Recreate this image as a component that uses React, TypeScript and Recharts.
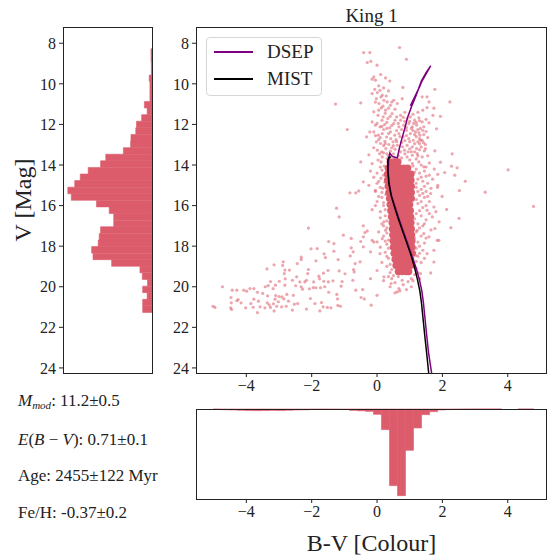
import { Bar, BarChart, Scatter, ScatterChart, XAxis, YAxis } from "recharts";

const FONT = '"Liberation Serif", "Times New Roman", serif';
const INK = "#222222";
const RED = "#dc5c6c";

const colourTicks = [-4, -2, 0, 2, 4];
const magTicks = [8, 10, 12, 14, 16, 18, 20, 22, 24];

// V histogram: 40 bins starting at V = 8.27, 0.325 mag wide
const V_MIN = 8.27;
const V_BIN = 0.325;
const vCounts = [
  3, 3, 2, 2, 8, 6, 6, 6, 22, 14, 30, 45, 47, 61, 62, 83, 134, 149, 185, 208,
  224, 244, 234, 161, 124, 111, 111, 149, 153, 156, 175, 171, 117, 35, 28, 13, 27, 14, 27, 27,
];

// B-V histogram: 40 bins starting at -5.02, 0.2455 wide
const BV_MIN = -5.02;
const BV_BIN = 0.2455;
const bvCounts = [
  4, 10, 14, 18, 22, 24, 22, 20, 22, 18, 14, 12, 6, 5, 5, 6, 8, 20, 26, 34,
  76, 295, 1095, 1238, 590, 271, 81, 38, 14, 8, 5, 3, 2, 1, 1, 1, 0, 0, 1, 1,
];

// [B-V, V]
const tailStars = [
  [-0.42, 14.83], [-0.83, 15.37], [-0.65, 15.37], [-0.56, 15.28], [-1.24, 16.13], [-1.16, 16.56],
  [-2.1, 17.11], [-0.42, 17.0], [-1.03, 17.46], [-0.37, 17.33], [-1.48, 17.77], [-1.32, 17.87],
  [-0.79, 17.62], [-0.5, 17.77], [-0.42, 17.54], [-2.02, 18.13], [-1.83, 18.12], [-0.42, 18.03],
  [-0.79, 18.08], [-0.73, 18.28], [-0.82, 18.48], [-1.32, 18.25], [-1.62, 18.38], [-1.58, 18.56],
  [-1.19, 18.66], [-1.87, 18.72], [-2.32, 18.54], [-2.32, 18.66], [-2.44, 18.86], [-2.87, 18.77],
  [-2.89, 18.95], [-3.15, 18.92], [-3.37, 19.12], [-0.52, 18.77], [-0.67, 18.86], [-0.72, 19.15],
  [-0.7, 19.27], [-2.1, 19.15], [-2.12, 19.35], [-2.82, 19.18], [-2.84, 19.35], [-2.68, 19.18],
  [-1.64, 19.33], [-1.5, 19.2], [-1.16, 19.22], [-0.98, 19.36], [-1.78, 19.48], [-1.76, 19.61],
  [-2.46, 19.51], [-2.59, 19.68], [-2.81, 19.61], [-2.99, 19.73], [-3.26, 19.74], [-3.33, 19.94],
  [-3.42, 20.0], [-3.11, 19.92], [-3.18, 20.09], [-2.82, 19.92], [-2.36, 19.76], [-2.21, 19.76],
  [-2.16, 19.68], [-1.94, 19.76], [-1.63, 19.73], [-1.49, 19.76], [-1.35, 19.71], [-1.07, 19.74],
  [-0.74, 19.68], [-2.49, 19.95], [-2.32, 20.0], [-2.28, 20.12], [-2.07, 20.1], [-1.95, 20.04],
  [-1.87, 20.05], [-1.73, 20.05], [-1.6, 20.0], [-1.48, 20.27], [-1.23, 20.38], [-1.1, 19.97],
  [-0.65, 20.17], [-0.44, 20.14], [-4.73, 20.0], [-4.43, 20.17], [-4.29, 20.17], [-4.08, 20.17],
  [-3.99, 20.22], [-3.89, 20.09], [-3.77, 20.09], [-3.66, 20.27], [-3.5, 20.33], [-3.35, 20.45],
  [-3.1, 20.43], [-3.0, 20.48], [-2.91, 20.5], [-2.76, 20.38], [-2.56, 20.42], [-3.12, 20.61],
  [-2.85, 20.6], [-2.71, 20.71], [-4.47, 20.53], [-4.25, 20.63], [-4.29, 20.69], [-3.77, 20.61],
  [-3.63, 20.71], [-3.86, 20.83], [-4.46, 20.79], [-4.16, 20.79], [-4.02, 21.04], [-3.79, 21.01],
  [-3.58, 20.99], [-3.43, 21.04], [-3.26, 21.02], [-3.07, 20.96], [-2.92, 20.99], [-2.78, 20.96],
  [-2.53, 20.86], [-2.43, 20.83], [-2.04, 20.58], [-1.9, 20.83], [-1.7, 20.78], [-1.65, 20.99],
  [-1.52, 21.02], [-1.41, 21.04], [-1.21, 20.6], [-1.2, 20.92], [-1.12, 20.96], [-0.49, 20.53],
  [-0.39, 20.6], [-5.02, 20.96], [-4.96, 21.02], [-4.48, 21.04], [-4.45, 21.12], [-3.66, 21.27],
  [-3.15, 21.19], [-2.59, 21.15], [-2.16, 21.1], [-1.75, 21.19], [-3.36, 20.79], [-3.17, 20.84],
  [-3.02, 20.74], [-3.3, 20.89],
];

const fieldStars = [
  [0.69, 8.21], [-0.41, 8.46], [-0.22, 8.46], [-0.3, 8.95], [-0.19, 8.89], [0.9, 8.79], [0.0, 9.08],
  [-0.1, 9.66], [-0.15, 9.77], [-0.05, 9.82], [0.11, 9.54], [0.26, 9.71], [0.39, 9.86], [-1.27, 11.0],
  [-0.5, 10.94], [-0.91, 12.25], [-0.32, 12.61], [-0.5, 13.85], [0.79, 10.18], [1.77, 10.27],
  [2.23, 10.89], [1.53, 10.64], [1.59, 10.89], [1.53, 11.17], [1.4, 11.3], [1.74, 11.2], [1.71, 11.55],
  [1.59, 11.92], [1.82, 12.22], [1.94, 11.6], [1.77, 13.3], [1.48, 13.19], [1.33, 12.78],
  [2.3, 13.45], [1.94, 13.86], [2.28, 14.06], [2.45, 14.14], [2.07, 14.37], [2.38, 14.5], [2.7, 14.8],
  [2.52, 15.26], [1.99, 15.55], [3.31, 15.34], [4.01, 14.24], [2.13, 16.19], [4.79, 16.04],
  [2.51, 16.63], [2.26, 17.09],
  [-0.05, 15.25], [0.21, 16.8], [0.26, 17.22], [-0.3, 17.25], [-0.15, 17.71], [0.0, 17.79],
  [0.16, 17.63], [-0.2, 18.28], [0.09, 18.37], [-0.2, 19.6], [0.21, 19.51], [0.43, 19.84],
  [0.77, 19.68], [0.9, 20.14], [0.67, 20.09], [0.62, 20.25], [0.0, 20.42], [-0.18, 20.91],
  [1.33, 19.35], [1.64, 19.32], [1.74, 18.78], [1.89, 17.71], [1.84, 17.71], [1.77, 17.13],
  [1.86, 14.46], [1.86, 15.0], [1.64, 15.41], [1.74, 16.07], [1.53, 16.23], [1.69, 16.56],
  [1.23, 17.22], [1.43, 17.38], [1.59, 17.54], [1.74, 18.2], [1.53, 18.37], [1.18, 18.45],
  [1.02, 18.69], [1.13, 19.02], [0.97, 19.35], [0.62, 19.02],
];

const giantStars = [
  [-0.07, 10.27], [0.01, 10.43], [0.09, 10.32], [0.16, 10.56], [-0.02, 10.73], [0.21, 10.81],
  [0.06, 10.97], [0.31, 10.89], [0.13, 11.19], [0.26, 11.3], [0.41, 11.06], [0.51, 10.81],
  [0.62, 10.97], [0.77, 10.73], [-0.1, 11.38], [0.03, 11.55], [0.19, 11.63], [0.33, 11.71],
  [0.46, 11.47], [0.6, 11.63], [0.72, 11.79], [-0.15, 11.88], [-0.05, 12.04], [0.09, 12.12],
  [0.23, 12.01], [0.39, 12.17], [0.51, 11.96], [0.67, 12.12], [0.82, 12.04], [0.92, 11.71],
  [1.02, 11.63], [1.15, 11.79], [1.28, 11.68], [1.38, 11.88], [0.97, 11.96], [1.08, 12.12],
  [1.21, 12.04], [1.33, 12.2], [1.43, 12.12], [0.9, 12.29], [1.02, 12.45], [1.18, 12.37],
  [1.31, 12.53], [1.43, 12.5], [0.97, 12.7], [1.11, 12.78], [1.25, 12.86], [1.38, 12.78],
  [0.92, 13.03], [1.08, 13.11], [1.21, 13.19], [1.35, 13.11], [1.48, 12.99], [-0.1, 12.37],
  [0.04, 12.53], [0.16, 12.45], [0.29, 12.62], [0.41, 12.37], [0.54, 12.53], [0.67, 12.45],
  [0.8, 12.62], [-0.02, 12.86], [0.11, 12.94], [0.24, 12.83], [0.36, 12.99], [0.49, 12.86],
  [0.62, 13.03], [0.75, 12.89], [0.01, 13.27], [0.14, 13.35], [0.27, 13.19], [0.41, 13.32],
  [0.55, 13.22], [0.72, 13.35], [0.84, 13.27], [0.16, 13.6], [0.31, 13.68], [0.03, 13.76],
  [0.92, 13.6], [1.08, 13.52], [1.23, 13.44], [1.38, 13.6], [-0.15, 13.93], [1.08, 13.93],
  [1.28, 13.85], [1.43, 14.09], [-0.22, 12.37], [1.38, 10.64], [0.72, 11.55], [-0.15, 10.48],
  [0.05, 10.1], [0.2, 10.2], [0.35, 10.35], [0.12, 10.65], [0.28, 10.6], [-0.05, 10.9], [0.45, 10.9],
  [0.18, 11.1], [0.35, 11.2], [0.55, 11.25], [0.05, 11.3], [0.85, 11.4], [1.25, 11.4], [0.25, 11.45],
  [0.4, 11.6], [1.1, 11.5], [0.15, 11.8], [0.55, 11.8], [0.85, 11.85], [1.2, 11.9], [1.5, 11.75],
  [0.0, 11.95], [0.3, 11.9], [0.6, 12.3], [0.75, 12.25], [1.1, 12.3], [1.25, 12.25], [1.5, 12.35],
  [0.2, 12.25], [-0.05, 12.55], [0.35, 12.45], [0.7, 12.6], [0.9, 12.55], [1.2, 12.6], [1.55, 12.65],
  [0.05, 12.75], [0.42, 12.7], [0.58, 12.75], [0.85, 12.8], [1.3, 12.95], [0.2, 13.05], [0.5, 13.05],
  [0.78, 13.1], [1.0, 13.2], [1.15, 13.35], [1.45, 13.3], [-0.1, 13.15], [0.08, 13.45], [0.3, 13.45],
  [0.5, 13.45], [0.65, 13.55], [0.85, 13.45], [1.0, 13.75], [1.2, 13.7], [1.55, 13.55], [0.12, 13.85],
  [0.95, 13.35], [-0.25, 13.5], [1.6, 13.9], [1.35, 14.0],
  [1.0, 11.85], [1.12, 11.95], [1.3, 11.82], [1.05, 12.2], [1.15, 12.5], [1.28, 12.4], [1.4, 12.3],
  [1.0, 12.85], [1.15, 12.95], [1.3, 12.7], [1.42, 12.9], [1.05, 13.35], [1.3, 13.25], [1.25, 13.55],
  [0.1, 12.65], [0.25, 12.95], [0.45, 13.15], [0.6, 12.85], [0.35, 13.55], [0.2, 13.4], [0.55, 13.65],
  [0.75, 13.65], [0.9, 12.15], [0.45, 12.05], [0.15, 12.1], [0.3, 12.2], [0.65, 11.95], [0.8, 11.65],
];

const haloStars = [
  [1.2, 14.2], [1.3, 14.4], [1.45, 14.3], [1.6, 14.5], [1.25, 14.7], [1.4, 14.8], [1.55, 14.9],
  [1.7, 14.7], [1.2, 15.1], [1.35, 15.2], [1.5, 15.3], [1.3, 15.5], [1.45, 15.6], [1.6, 15.8],
  [1.25, 15.9], [1.4, 16.1], [1.2, 16.4], [1.35, 16.5], [1.5, 16.7], [1.25, 16.9], [1.4, 17.0],
  [1.2, 17.3], [1.35, 17.5], [1.5, 17.6], [1.25, 17.8], [1.2, 18.1], [1.4, 18.2], [1.25, 18.5],
  [1.35, 18.8], [1.2, 19.1], [1.15, 19.4], [1.3, 19.6], [1.75, 14.2], [1.85, 15.1], [1.8, 16.3],
  [1.65, 17.2], [1.9, 16.8], [1.1, 14.05], [1.5, 14.1], [1.05, 19.6], [0.95, 19.75], [0.8, 19.9],
  [1.05, 20.0], [0.1, 14.1], [0.0, 14.4], [-0.1, 14.6], [0.05, 14.8], [0.1, 15.1], [-0.05, 15.3],
  [0.15, 15.6], [0.0, 15.8], [0.2, 16.0], [0.1, 16.3], [0.25, 16.5], [0.15, 16.9], [0.3, 17.1],
  [0.2, 17.5], [0.3, 17.9], [0.25, 18.3], [0.35, 18.6], [0.3, 19.0], [0.4, 19.3], [0.45, 19.6],
  [0.55, 19.8], [0.65, 19.5], [-0.2, 14.3], [-0.25, 15.0], [-0.15, 16.2], [0.05, 17.3],
  [-0.1, 17.8], [0.15, 18.8], [0.0, 19.2], [0.2, 19.7], [0.4, 20.0], [0.55, 20.3], [0.7, 20.2],
  [1.15, 14.35], [1.35, 14.6], [1.5, 14.55], [1.2, 14.9], [1.45, 15.05], [1.65, 15.15], [1.25, 15.3],
  [1.4, 15.4], [1.55, 15.55], [1.2, 15.7], [1.35, 15.8], [1.5, 16.0], [1.3, 16.25], [1.6, 16.4],
  [1.15, 16.65], [1.45, 16.9], [1.3, 17.1], [1.15, 17.6], [1.45, 17.85], [1.3, 18.0], [1.15, 18.3],
  [1.3, 18.35], [1.45, 18.6], [1.2, 18.75], [1.25, 19.3], [1.1, 19.7],
  [0.15, 14.25], [0.0, 14.9], [0.15, 15.35], [0.05, 15.55], [0.2, 15.85], [0.25, 16.2], [0.3, 16.75],
  [0.2, 17.0], [0.3, 17.35], [0.35, 17.7], [0.25, 17.75], [0.35, 18.1], [0.3, 18.5], [0.4, 18.9],
  [0.45, 19.15], [0.5, 19.45], [0.35, 19.5], [0.1, 16.6], [-0.05, 16.0], [0.1, 18.05],
  [0.2, 14.5], [0.24, 14.85], [0.18, 15.15], [0.27, 15.45], [0.12, 14.65], [0.22, 14.05],
];

// the saturated main-sequence core
const coreStars = [
  [0.4, 13.85], [0.52, 13.85], [0.64, 13.85],
  [0.34, 14.15], [0.46, 14.15], [0.58, 14.15], [0.7, 14.15], [0.82, 14.15], [0.94, 14.15],
  [0.32, 14.45], [0.44, 14.45], [0.56, 14.45], [0.68, 14.45], [0.8, 14.45], [0.92, 14.45], [1.04, 14.45],
  [0.32, 14.75], [0.44, 14.75], [0.56, 14.75], [0.68, 14.75], [0.8, 14.75], [0.92, 14.75], [1.04, 14.75],
  [0.34, 15.05], [0.46, 15.05], [0.58, 15.05], [0.7, 15.05], [0.82, 15.05], [0.94, 15.05], [1.05, 15.05],
  [0.36, 15.35], [0.48, 15.35], [0.6, 15.35], [0.72, 15.35], [0.84, 15.35], [0.96, 15.35], [1.05, 15.35],
  [0.38, 15.65], [0.5, 15.65], [0.62, 15.65], [0.74, 15.65], [0.86, 15.65], [0.98, 15.65], [1.05, 15.65],
  [0.4, 15.95], [0.52, 15.95], [0.64, 15.95], [0.76, 15.95], [0.88, 15.95], [1.0, 15.95],
  [0.42, 16.25], [0.54, 16.25], [0.66, 16.25], [0.78, 16.25], [0.9, 16.25], [1.02, 16.25],
  [0.44, 16.55], [0.56, 16.55], [0.68, 16.55], [0.8, 16.55], [0.92, 16.55], [1.03, 16.55],
  [0.46, 16.85], [0.58, 16.85], [0.7, 16.85], [0.82, 16.85], [0.94, 16.85], [1.04, 16.85],
  [0.47, 17.15], [0.59, 17.15], [0.71, 17.15], [0.83, 17.15], [0.95, 17.15], [1.05, 17.15],
  [0.48, 17.45], [0.6, 17.45], [0.72, 17.45], [0.84, 17.45], [0.96, 17.45], [1.06, 17.45],
  [0.49, 17.75], [0.61, 17.75], [0.73, 17.75], [0.85, 17.75], [0.97, 17.75], [1.07, 17.75],
  [0.5, 18.05], [0.62, 18.05], [0.74, 18.05], [0.86, 18.05], [0.98, 18.05], [1.07, 18.05],
  [0.52, 18.35], [0.64, 18.35], [0.76, 18.35], [0.88, 18.35], [1.0, 18.35], [1.08, 18.35],
  [0.55, 18.65], [0.67, 18.65], [0.79, 18.65], [0.91, 18.65], [1.03, 18.65],
  [0.58, 18.95], [0.7, 18.95], [0.82, 18.95], [0.94, 18.95], [1.03, 18.95],
  [0.65, 19.25], [0.77, 19.25], [0.89, 19.25], [0.97, 19.25],
];

const dsepTrack = [
  [1.67, 24.25], [1.58, 23.3], [1.52, 22.4], [1.47, 21.6], [1.42, 20.8], [1.37, 20.2], [1.29, 19.6],
  [1.18, 19.0], [1.05, 18.4], [0.92, 17.8], [0.79, 17.2], [0.66, 16.6], [0.54, 16.0], [0.44, 15.5],
  [0.37, 14.9], [0.34, 14.3], [0.35, 13.8], [0.39, 13.42], [0.47, 13.58], [0.62, 13.65], [0.68, 13.2],
  [0.76, 12.7], [0.84, 12.25], [0.94, 11.63], [1.06, 11.1], [1.18, 10.64], [1.28, 10.2], [1.36, 9.85],
  [1.5, 9.45], [1.64, 9.12], [1.38, 9.85], [1.3, 10.15], [1.02, 11.08],
];

const mistTrack = [
  [0.43, 13.6], [0.36, 13.64], [0.33, 13.75], [0.33, 14.3], [0.36, 14.9], [0.43, 15.5], [0.52, 16.0],
  [0.64, 16.6], [0.77, 17.2], [0.9, 17.8], [1.03, 18.4], [1.14, 19.0], [1.23, 19.6], [1.31, 20.2],
  [1.36, 20.8], [1.41, 21.6], [1.46, 22.4], [1.52, 23.3], [1.58, 24.25],
];

const toPts = (arr: number[][]) => arr.map(([x, v]) => ({ x, v }));
const vHist = vCounts.map((count, i) => ({ v: V_MIN + (i + 0.5) * V_BIN, count }));
const bvHist = bvCounts.map((count, i) => ({ c: BV_MIN + (i + 0.5) * BV_BIN, count }));

const fmt = (v: number) => (v < 0 ? `\u2212${Math.abs(v)}` : `${v}`);
const tickStyle = { fontFamily: FONT, fontSize: 16, fill: INK };

const starDot = (p: any) => <circle cx={p.cx} cy={p.cy} r={1.6} fill={RED} fillOpacity={0.55} />;
const coreDot = (p: any) => <circle cx={p.cx} cy={p.cy} r={3.6} fill={RED} />;
const noDot = () => <g />;

const frame = (left: number, top: number, width: number, height: number) => (
  <div
    style={{
      position: "absolute",
      left,
      top,
      width,
      height,
      boxSizing: "border-box",
      border: `1px solid ${INK}`,
      pointerEvents: "none",
    }}
  />
);

export default function App() {
  return (
    <div
      style={{
        position: "absolute",
        left: 0,
        top: 0,
        width: 547,
        height: 556,
        background: "#fff",
        fontFamily: FONT,
        color: INK,
        overflow: "hidden",
      }}
    >
      {/* V histogram */}
      <div style={{ position: "absolute", left: 0, top: 0 }}>
        <BarChart
          layout="vertical"
          width={155}
          height={400}
          data={vHist}
          margin={{ top: 27, right: 3, bottom: 0, left: 0 }}
          barGap={0}
          style={{ fontFamily: FONT }}
        >
          <XAxis
            type="number"
            domain={[0, 258]}
            reversed
            ticks={[0, 200]}
            tick={false}
            tickSize={4}
            height={27}
            axisLine={false}
            stroke={INK}
          />
          <YAxis
            type="number"
            dataKey="v"
            domain={[7.2, 24.25]}
            allowDataOverflow
            ticks={magTicks}
            width={63}
            tick={tickStyle}
            tickSize={4}
            tickMargin={3}
            axisLine={false}
            stroke={INK}
          />
          <Bar
            dataKey="count"
            fill={RED}
            stroke={RED}
            strokeWidth={0.6}
            barSize={6.5}
            isAnimationActive={false}
          />
        </BarChart>
      </div>

      {/* CMD */}
      <div style={{ position: "absolute", left: 150, top: 0 }}>
        <ScatterChart
          width={397}
          height={400}
          margin={{ top: 27, right: 1, bottom: 0, left: 0 }}
          style={{ fontFamily: FONT }}
        >
          <XAxis
            type="number"
            dataKey="x"
            domain={[-5.54, 5.17]}
            allowDataOverflow
            ticks={colourTicks}
            tickFormatter={fmt}
            height={27}
            tick={tickStyle}
            tickSize={4}
            tickMargin={3}
            axisLine={false}
            stroke={INK}
          />
          <YAxis
            type="number"
            dataKey="v"
            domain={[7.2, 24.25]}
            reversed
            allowDataOverflow
            ticks={magTicks}
            width={46}
            tick={tickStyle}
            tickSize={4}
            tickMargin={3}
            axisLine={false}
            stroke={INK}
          />
          <Scatter data={toPts(tailStars)} shape={starDot} isAnimationActive={false} />
          <Scatter data={toPts(fieldStars)} shape={starDot} isAnimationActive={false} />
          <Scatter data={toPts(giantStars)} shape={starDot} isAnimationActive={false} />
          <Scatter data={toPts(haloStars)} shape={starDot} isAnimationActive={false} />
          <Scatter data={toPts(coreStars)} shape={coreDot} isAnimationActive={false} />
          <Scatter
            data={toPts(dsepTrack)}
            line={{ stroke: "#800080", strokeWidth: 1.5 }}
            shape={noDot}
            isAnimationActive={false}
          />
          <Scatter
            data={toPts(mistTrack)}
            line={{ stroke: "#000000", strokeWidth: 1.5 }}
            shape={noDot}
            isAnimationActive={false}
          />
        </ScatterChart>
      </div>

      {/* B-V histogram */}
      <div style={{ position: "absolute", left: 150, top: 380 }}>
        <BarChart
          width={397}
          height={176}
          data={bvHist}
          margin={{ top: 29, right: 1, bottom: 0, left: 0 }}
          barGap={0}
          style={{ fontFamily: FONT }}
        >
          <XAxis
            type="number"
            dataKey="c"
            domain={[-5.54, 5.17]}
            allowDataOverflow
            ticks={colourTicks}
            tickFormatter={fmt}
            height={57}
            tick={tickStyle}
            tickSize={4}
            tickMargin={3}
            axisLine={false}
            stroke={INK}
          />
          <YAxis
            type="number"
            domain={[0, 1286]}
            reversed
            ticks={[1000]}
            tick={false}
            width={46}
            tickSize={4}
            axisLine={false}
            stroke={INK}
          />
          <Bar
            dataKey="count"
            fill={RED}
            stroke={RED}
            strokeWidth={0.6}
            barSize={7.95}
            isAnimationActive={false}
          />
        </BarChart>
      </div>

      {frame(63, 27, 90, 347)}
      {frame(196, 27, 351, 347)}
      {frame(196, 409, 351, 91)}

      {/* legend */}
      <div
        style={{
          position: "absolute",
          left: 206,
          top: 37,
          width: 116,
          height: 59,
          boxSizing: "border-box",
          border: "1px solid #d6d6d6",
          borderRadius: 4,
          background: "rgba(255,255,255,0.8)",
          fontSize: 19,
        }}
      >
        <div style={{ position: "absolute", left: 7, top: 13, width: 39, height: 1.5, background: "#800080" }} />
        <div style={{ position: "absolute", left: 60, top: 2, lineHeight: "24px" }}>DSEP</div>
        <div style={{ position: "absolute", left: 7, top: 40, width: 39, height: 1.5, background: "#000" }} />
        <div style={{ position: "absolute", left: 60, top: 29, lineHeight: "24px" }}>MIST</div>
      </div>

      <div style={{ position: "absolute", left: 196, width: 351, top: 4, textAlign: "center", fontSize: 19, lineHeight: "24px" }}>
        King 1
      </div>

      <div
        style={{
          position: "absolute",
          left: 23 - 60,
          top: 200 - 14,
          width: 120,
          height: 28,
          lineHeight: "28px",
          textAlign: "center",
          fontSize: 24,
          transform: "rotate(-90deg)",
        }}
      >
        V [Mag]
      </div>

      <div style={{ position: "absolute", left: 196, width: 351, top: 531, textAlign: "center", fontSize: 24, lineHeight: "24px" }}>
        B-V [Colour]
      </div>

      <div style={{ position: "absolute", left: 18, top: 390, fontSize: 17, lineHeight: "22px" }}>
        <i>M</i>
        <sub style={{ fontSize: 11, verticalAlign: "-3px" }}>
          <i>mod</i>
        </sub>
        : 11.2±0.5
      </div>
      <div style={{ position: "absolute", left: 18, top: 429, fontSize: 17, lineHeight: "22px" }}>
        <i>E</i>(<i>B</i> − <i>V</i>): 0.71±0.1
      </div>
      <div style={{ position: "absolute", left: 18, top: 465, fontSize: 17, lineHeight: "22px" }}>
        Age: 2455±122 Myr
      </div>
      <div style={{ position: "absolute", left: 18, top: 502, fontSize: 17, lineHeight: "22px" }}>
        Fe/H: -0.37±0.2
      </div>
    </div>
  );
}
